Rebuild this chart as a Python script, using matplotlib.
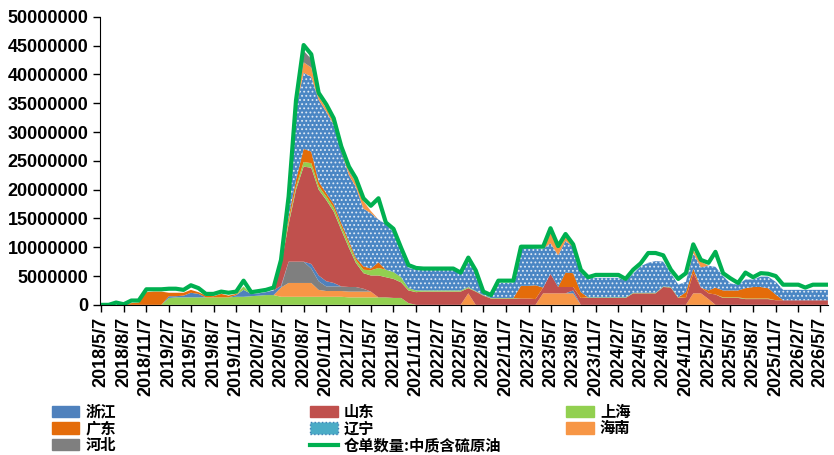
import numpy as np
import pandas as pd
import matplotlib
matplotlib.use("Agg")
import matplotlib.pyplot as plt
from matplotlib.patches import Patch
from matplotlib.lines import Line2D
from matplotlib.ticker import FuncFormatter

plt.rcParams['font.family'] = ['Liberation Sans', 'Noto Sans CJK SC']
plt.rcParams['hatch.linewidth'] = 0.8

# monthly samples, values in millions of barrels
dates = pd.date_range("2018-05-07", periods=98, freq=pd.DateOffset(months=1))

shanghai_low = [0, 0, 0, 0, 0, 0, 0, 0, 0,
                1.2, 1.3, 1.3, 1.3, 1.3, 1.3, 1.3, 1.3, 1.3, 1.4, 1.4, 1.5, 1.6, 1.7, 1.7,
                1.4, 1.4, 1.4, 1.4, 1.4, 1.4, 1.4, 1.4, 1.4, 1.3, 1.3, 1.3, 1.3, 1.3, 1.3,
                1.2, 1.2, 0.3] + [0] * 56

hainan_low = ([0] * 24
              + [1.6, 2.4, 2.4, 2.4, 2.4, 1.2, 1.0, 1.0, 1.0, 1.0, 1.0, 1.0, 1.0]
              + [0] * 12 + [2.0] + [0] * 9
              + [2.0, 2.0, 2.0, 2.0, 2.0]
              + [0] * 15 + [2.0, 2.0, 1.0] + [0] * 16)

hebei_low = ([0] * 25
             + [3.7, 3.7, 3.7, 2.5, 1.5, 0.8, 0.8, 0.8, 0.8, 0.8, 0.5]
             + [0] * 62)

zhejiang = ([0] * 9
            + [0.3, 0.2, 0.3, 0.8, 0.6, 0, 0, 0, 0, 0.3, 1.2, 0.4, 0.4, 0.5, 0.8,
               0.3, 0, 0, 0, 0.8, 1.0, 0.9, 0.6]
            + [0] * 31 + [0.5] + [0] * 34)

shandong = ([0] * 24
            + [3.6, 6.5, 12.5, 16.5, 16.7, 14.9, 14.1, 12.4, 9.8, 6.8, 4.2, 2.7, 2.8, 3.8,
               3.5, 3.3, 2.7, 2.2, 2.2, 2.3, 2.3, 2.3, 2.3, 2.3, 2.3, 0.9, 2.3, 1.6, 1.1,
               1.1, 1.1, 1.1, 1.1, 1.1, 1.0, 1.0, 3.4, 1.1, 1.1, 0.6, 1.2, 1.2, 1.2, 1.2,
               1.2, 1.2, 1.2, 2.0, 2.0, 2.0, 2.0, 3.1, 3.0, 1.2, 1.2, 3.5, 1.0, 1.0, 1.8,
               1.2, 1.2, 1.2, 1.0, 1.0, 1.0, 1.0, 0.8, 0.8, 0.8, 0.8, 0.8, 0.8, 0.8, 0.8])

shanghai_high = ([0] * 19 + [0.6] + [0] * 4
                 + [0.3, 0.5, 0.5, 0.8, 0.8, 0.6, 0.6, 0.7, 0.6, 0.7, 0.5, 0.6, 0.9, 1.3,
                    1.3, 1.2, 0.9, 0.4, 0.3, 0.2, 0.2, 0.2, 0.2, 0.2, 0.2, 0.2, 0.1, 0.1,
                    0.1, 0.1, 0.1, 0.1]
                 + [0] * 9 + [0.1] * 13 + [0] * 5 + [0.1] * 7 + [0] * 8)

guangdong = ([0] * 4
             + [0.3, 0.4, 2.2, 2.3, 2.3, 0.6, 0.6, 0.5, 0.5, 0.3, 0.3, 0.2, 0.6, 0.3, 0.2]
             + [0] * 5
             + [0.4, 0.8, 1.2, 2.3, 2.0, 0.8, 0.6, 0.6, 0.6, 0.5, 0.4, 0.6, 0.3, 1.0]
             + [0] * 18 + [2.2, 2.2, 2.4] + [0] * 3 + [2.5, 2.4, 1.0] + [0] * 13
             + [1.0, 0.8, 0, 0.5, 1.2, 1.2, 1.2, 1.2, 1.8, 2.0, 2.0, 1.8, 1.0]
             + [0] * 7)

liaoning = ([0] * 25
            + [2.5, 12.5, 13.2, 13.0, 14.2, 14.1, 13.8, 12.5, 11.4, 12.3, 10.0, 9.6, 7.4,
               7.9, 6.9, 4.8, 3.5, 3.6, 3.6, 3.6, 3.6, 3.6, 3.6, 3.0, 4.7, 3.4, 0.4, 0.3,
               2.6, 2.6, 2.6, 6.6, 6.6, 6.4, 6.7, 5.3, 5.5, 5.5, 4.5, 3.4, 3.3, 3.4, 3.4,
               3.4, 3.4, 2.9, 3.3, 4.6, 5.2, 5.5, 4.3, 2.4, 2.2, 1.8, 2.7, 3.5, 4.3, 3.6,
               2.5, 1.2, 1.0, 1.5, 1.3, 1.8, 2.0, 2.2, 1.8, 1.8, 1.8, 1.8, 1.8, 1.8, 1.8])

hainan_high = ([0] * 25
               + [0.4, 0.6, 1.8, 1.6, 0.6, 0.6, 0.6, 0.5, 0.6, 0.8, 1.3, 0.4]
               + [0] * 23 + [2.0, 1.2, 1.0] + [0] * 16 + [0.5, 1.0] + [0] * 17)

hebei_high = [0] * 26 + [0.3, 2.0, 1.5, 0, 0, 0, 0, 0.3] + [0] * 64

total = [0, 0, 0.4, 0.1, 0.75, 0.75, 2.7, 2.7, 2.7, 2.8, 2.8, 2.6, 3.4, 2.9, 1.9, 1.9,
         2.3, 2.1, 2.3, 4.2, 2.2, 2.4, 2.6, 3.0, 7.8, 18.8, 35.5, 45.1, 43.5, 36.8, 34.8,
         32.4, 27.5, 24.0, 22.0, 18.5, 17.2, 18.5, 14.3, 13.2, 9.9, 6.9, 6.4, 6.3, 6.3,
         6.3, 6.3, 6.3, 5.6, 8.2, 6.0, 2.3, 1.7, 4.2, 4.2, 4.2, 10.1, 10.1, 10.1, 10.1,
         13.3, 10.2, 12.3, 10.5, 6.1, 4.8, 5.2, 5.2, 5.2, 5.2, 4.5, 6.1, 7.2, 9.0, 9.0,
         8.6, 6.1, 4.5, 5.5, 10.5, 7.8, 7.3, 9.2, 5.5, 4.6, 3.8, 5.6, 4.8, 5.5, 5.4, 5.0,
         3.5, 3.5, 3.5, 3.0, 3.5, 3.5, 3.5]

C_ZJ, C_SD, C_SH, C_GD = '#4F81BD', '#C0504D', '#92D050', '#E46C0A'
C_LN, C_HN, C_HB, C_LINE = '#4A86C4', '#F79646', '#7F7F7F', '#00B050'

layers = [
    (shanghai_low, C_SH, None),
    (hainan_low, C_HN, None),
    (hebei_low, C_HB, None),
    (zhejiang, C_ZJ, None),
    (shandong, C_SD, None),
    (shanghai_high, C_SH, None),
    (guangdong, C_GD, None),
    (liaoning, C_LN, '....'),
    (hainan_high, C_HN, None),
    (hebei_high, C_HB, None),
]

fig = plt.figure(figsize=(8.34, 4.55), dpi=100)
ax = fig.add_axes([0.12, 0.33, 0.873, 0.633])

base = np.zeros(len(dates))
for vals, color, hatch in layers:
    v = np.array(vals) * 1e6
    if hatch:
        ax.fill_between(dates, base, base + v, facecolor=color, edgecolor='#DDE8F4',
                        hatch=hatch, linewidth=0)
    else:
        ax.fill_between(dates, base, base + v, facecolor=color, linewidth=0)
    base = base + v

ax.plot(dates, np.array(total) * 1e6, color=C_LINE, lw=3)

ax.set_ylim(0, 5e7)
ax.set_yticks(np.arange(0, 5e7 + 1, 5e6))
ax.yaxis.set_major_formatter(FuncFormatter(lambda v, p: f"{int(v)}"))

ticks = pd.date_range("2018-05-07", "2026-05-07", freq=pd.DateOffset(months=3))
ax.set_xticks(ticks)
ax.set_xticklabels([f"{d.year}/{d.month}/{d.day}" for d in ticks], rotation=90)
ax.set_xlim(pd.Timestamp("2018-05-03"), pd.Timestamp("2026-06-08"))

ax.tick_params(axis='x', labelsize=13, length=5, width=1)
ax.tick_params(axis='y', labelsize=13, length=5, width=1)
for lbl in ax.get_xticklabels() + ax.get_yticklabels():
    lbl.set_fontweight('bold')

for s in ['top', 'right']:
    ax.spines[s].set_visible(False)
ax.spines['left'].set_color('black')
ax.spines['bottom'].set_color('black')

# legend laid out as three separate columns
leg_font = {'family': 'Noto Sans CJK SC', 'weight': 'bold', 'size': 11}
columns = [
    ([Patch(color=C_ZJ), Patch(color=C_GD), Patch(color=C_HB)],
     ['浙江', '广东', '河北'], 0.062),
    ([Patch(color=C_SD), Patch(facecolor='#4BACC6', edgecolor='#3F7FB5', linestyle=':'),
      Line2D([], [], color=C_LINE, lw=3)],
     ['山东', '辽宁', '仓单数量:中质含硫原油'], 0.372),
    ([Patch(color=C_SH), Patch(color=C_HN)],
     ['上海', '海南'], 0.679),
]
for handles, labels, x0 in columns:
    fig.legend(handles, labels, loc='upper left', bbox_to_anchor=(x0, 0.113),
               frameon=False, prop=leg_font, handlelength=1.8, handleheight=0.75,
               handletextpad=0.4, labelspacing=0.05, borderpad=0, borderaxespad=0)

fig.savefig("out.png", dpi=100)
